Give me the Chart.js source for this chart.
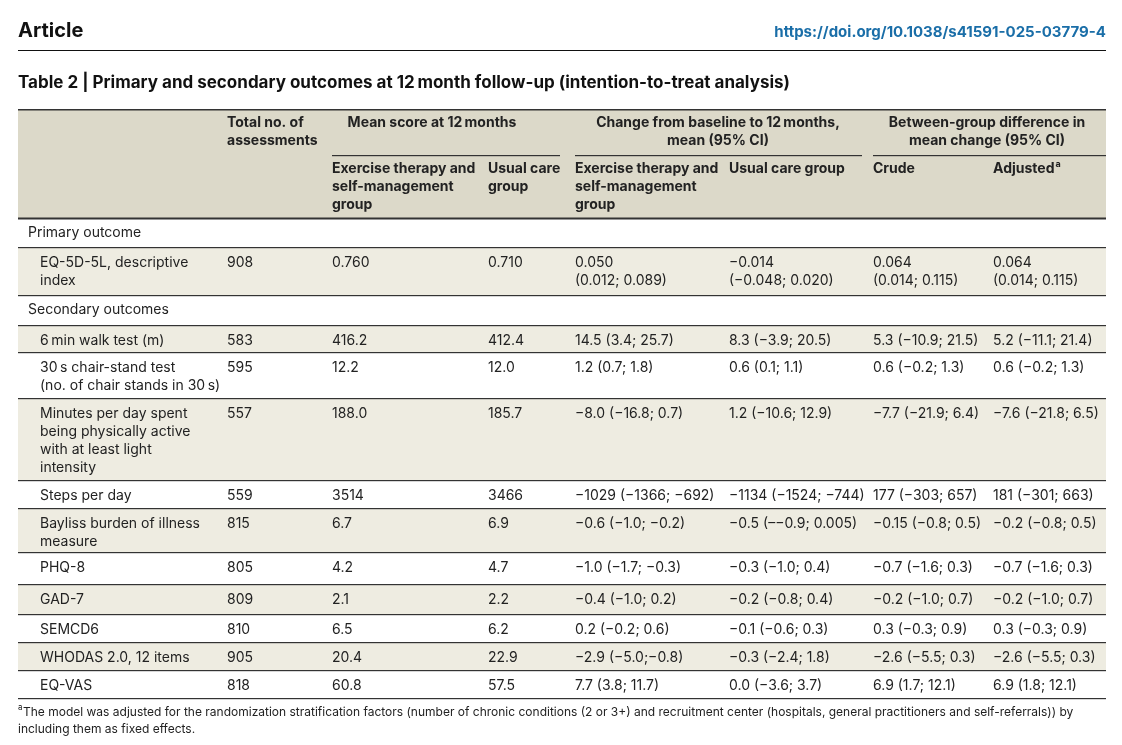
<!DOCTYPE html>
<html><head><meta charset="utf-8">
<script src="https://cdn.jsdelivr.net/npm/chart.js@4"></script>
<style>html,body{margin:0;padding:0;background:#fff}#w{width:1122px;height:745px}</style>
</head><body><div id="w"><canvas id="c"></canvas></div>
<script>
const outcomes = [
  ["Primary outcome"],
  ["EQ-5D-5L, descriptive","index"],
  ["Secondary outcomes"],
  ["6\u2009min walk test (m)"],
  ["30\u2009s chair-stand test","(no. of chair stands in 30\u2009s)"],
  ["Minutes per day spent","being physically active","with at least light","intensity"],
  ["Steps per day"],
  ["Bayliss burden of illness","measure"],
  ["PHQ-8"],["GAD-7"],["SEMCD6"],["WHODAS 2.0, 12 items"],["EQ-VAS"]
];
const isSection = [true,false,true,false,false,false,false,false,false,false,false,false,false];
const totals = ["","908","","583","595","557","559","815","805","809","810","905","818"];
const meanEx = ["","0.760","","416.2","12.2","188.0","3514","6.7","4.2","2.1","6.5","20.4","60.8"];
const meanUC = ["","0.710","","412.4","12.0","185.7","3466","6.9","4.7","2.2","6.2","22.9","57.5"];
const chgEx = ["",["0.050","(0.012; 0.089)"],"","14.5 (3.4; 25.7)","1.2 (0.7; 1.8)","\u22128.0 (\u221216.8; 0.7)","\u22121029 (\u22121366; \u2212692)","\u22120.6 (\u22121.0; \u22120.2)","\u22121.0 (\u22121.7; \u22120.3)","\u22120.4 (\u22121.0; 0.2)","0.2 (\u22120.2; 0.6)","\u22122.9 (\u22125.0;\u22120.8)","7.7 (3.8; 11.7)"];
const chgUC = ["",["\u22120.014","(\u22120.048; 0.020)"],"","8.3 (\u22123.9; 20.5)","0.6 (0.1; 1.1)","1.2 (\u221210.6; 12.9)","\u22121134 (\u22121524; \u2212744)","\u22120.5 (\u2013\u22120.9; 0.005)","\u22120.3 (\u22121.0; 0.4)","\u22120.2 (\u22120.8; 0.4)","\u22120.1 (\u22120.6; 0.3)","\u22120.3 (\u22122.4; 1.8)","0.0 (\u22123.6; 3.7)"];
const crude = ["",["0.064","(0.014; 0.115)"],"","5.3 (\u221210.9; 21.5)","0.6 (\u22120.2; 1.3)","\u22127.7 (\u221221.9; 6.4)","177 (\u2212303; 657)","\u22120.15 (\u22120.8; 0.5)","\u22120.7 (\u22121.6; 0.3)","\u22120.2 (\u22121.0; 0.7)","0.3 (\u22120.3; 0.9)","\u22122.6 (\u22125.5; 0.3)","6.9 (1.7; 12.1)"];
const adjusted = ["",["0.064","(0.014; 0.115)"],"","5.2 (\u221211.1; 21.4)","0.6 (\u22120.2; 1.3)","\u22127.6 (\u221221.8; 6.5)","181 (\u2212301; 663)","\u22120.2 (\u22120.8; 0.5)","\u22120.7 (\u22121.6; 0.3)","\u22120.2 (\u22121.0; 0.7)","0.3 (\u22120.3; 0.9)","\u22122.6 (\u22125.5; 0.3)","6.9 (1.8; 12.1)"];

// layout (positions only)
const rowTops = [218,247,295,325,352,398,480,508,552,584,614,642,670,698];
const shaded = [false,true,false,true,false,true,false,true,false,true,false,true,false];
const colX = [40,227,332,488,575,729,873,993];
const F = '"Inter","Noto Sans",sans-serif';

const tablePlugin = {
  id:'tbl',
  afterDraw(chart){
    const c = chart.ctx, X = v=>chart.scales.x.getPixelForValue(v), Y = v=>chart.scales.y.getPixelForValue(v);
    c.save();
    const L=X(18), R=X(1106);
    c.textBaseline='middle';
    // top
    c.fillStyle='#111'; c.font='bold 20px '+F; c.textAlign='left'; c.fillText('Article',X(18),Y(31));
    c.fillStyle='#1a6ea8'; c.font='bold 15px '+F; c.textAlign='right'; c.fillText('https://doi.org/10.1038/s41591-025-03779-4',X(1106),Y(32));
    c.fillStyle='#111'; c.fillRect(L,Y(50),R-L,1);
    c.font='bold 17px '+F; c.textAlign='left'; c.fillText('Table 2 | Primary and secondary outcomes at 12\u2009month follow-up (intention-to-treat analysis)',X(18),Y(83));
    // header background
    c.fillStyle='#dcd9c9'; c.fillRect(L,Y(109),R-L,Y(218)-Y(109));
    rowTops.slice(0,-1).forEach((t,i)=>{ if(shaded[i]){c.fillStyle='#eeece1'; c.fillRect(L,Y(t),R-L,Y(rowTops[i+1])-Y(t));}});
    // lines
    c.fillStyle='#333'; c.fillRect(L,Y(109),R-L,1.5); c.fillRect(L,Y(217.5),R-L,2);
    rowTops.slice(1).forEach(t=>c.fillRect(L,Y(t),R-L,1.2));
    c.fillRect(X(332),Y(155),X(560)-X(332),1.2);
    c.fillRect(X(575),Y(155),X(862)-X(575),1.2);
    c.fillRect(X(873),Y(155),X(1106)-X(873),1.2);
    // header text
    c.fillStyle='#222'; c.font='bold 14px '+F; c.textAlign='left';
    c.fillText('Total no. of',X(227),Y(123)); c.fillText('assessments',X(227),Y(141));
    c.textAlign='center';
    c.fillText('Mean score at 12\u2009months',X(432),Y(123));
    c.fillText('Change from baseline to 12\u2009months,',X(718),Y(123)); c.fillText('mean (95% CI)',X(718),Y(141));
    c.fillText('Between-group difference in',X(987),Y(123)); c.fillText('mean change (95% CI)',X(987),Y(141));
    c.textAlign='left';
    const sub=[[332,['Exercise therapy and','self-management','group']],[488,['Usual care','group']],[575,['Exercise therapy and','self-management','group']],[729,['Usual care group']],[873,['Crude']],[993,['Adjusted']]];
    sub.forEach(([x,ls])=>ls.forEach((s,k)=>c.fillText(s,X(x),Y(169+18*k))));
    c.font='bold 9px '+F; c.fillText('a',X(993)+c.measureText('').width+ (()=>{c.font='bold 14px '+F;const w=c.measureText('Adjusted').width;c.font='bold 9px '+F;return w+1;})(),Y(164));
    // body
    c.font='14px '+F; c.fillStyle='#222';
    const cols=[totals,meanEx,meanUC,chgEx,chgUC,crude,adjusted];
    outcomes.forEach((lab,i)=>{
      const t=rowTops[i];
      const y0 = isSection[i] ? (t+rowTops[i+1])/2 : t+16;
      const lx = isSection[i] ? 28 : colX[0];
      lab.forEach((s,k)=>c.fillText(s,X(lx),Y(y0+18*k)));
      cols.forEach((col,j)=>{const v=col[i]; const arr=Array.isArray(v)?v:[v]; arr.forEach((s,k)=>c.fillText(s,X(colX[j+1]),Y(y0+18*k)));});
    });
    // footnote
    c.font='12px '+F; c.fillStyle='#222';
    c.font='8px '+F; c.fillText('a',X(18),Y(708));
    c.font='12px '+F;
    c.fillText('The model was adjusted for the randomization stratification factors (number of chronic conditions (2 or 3+) and recruitment center (hospitals, general practitioners and self-referrals)) by',X(23),Y(712));
    c.fillText('including them as fixed effects.',X(18),Y(729));
    c.restore();
  }
};

new Chart(document.getElementById('c'),{
  type:'scatter',
  data:{datasets:[{data:[],pointRadius:0}]},
  options:{responsive:true,maintainAspectRatio:false,animation:false,
    layout:{padding:0},
    plugins:{legend:{display:false},tooltip:{enabled:false}},
    scales:{x:{type:'linear',min:0,max:1122,display:false},y:{type:'linear',min:0,max:745,reverse:true,display:false}}},
  plugins:[tablePlugin]
});
</script></body></html>
